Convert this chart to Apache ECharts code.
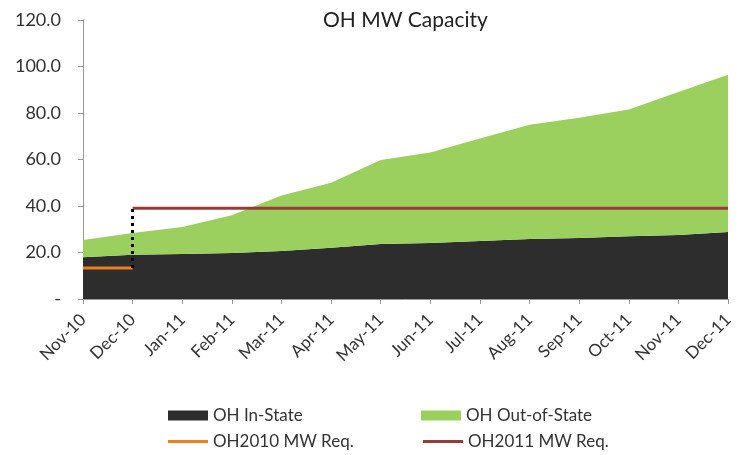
<!DOCTYPE html>
<html lang="en">
<head>
  <meta charset="UTF-8">
  <title>OH MW Capacity</title>
  <style>
    html, body { margin: 0; padding: 0; background: #fff; }
    #main { width: 740px; height: 455px; }
  </style>
</head>
<body>
  <div id="main"></div>
  <script src="https://cdn.jsdelivr.net/npm/echarts@6/dist/echarts.min.js"></script>
  <script>
    var months = ['Nov-10', 'Dec-10', 'Jan-11', 'Feb-11', 'Mar-11', 'Apr-11', 'May-11',
      'Jun-11', 'Jul-11', 'Aug-11', 'Sep-11', 'Oct-11', 'Nov-11', 'Dec-11'];
    var inState = [18.0, 19.0, 19.4, 19.8, 20.6, 22.0, 23.7, 24.1, 25.0, 25.8, 26.2, 27.0, 27.5, 28.8];
    var outOfState = [7.4, 9.4, 11.6, 16.2, 23.9, 28.0, 36.1, 38.9, 44.0, 49.2, 51.8, 54.5, 61.5, 67.7];
    var req2010 = [13.3, 13.3, null, null, null, null, null, null, null, null, null, null, null, null];
    var req2011 = [null, 39.0, 39.0, 39.0, 39.0, 39.0, 39.0, 39.0, 39.0, 39.0, 39.0, 39.0, 39.0, 39.0];

    var chart = echarts.init(document.getElementById('main'));
    var font = 'Lato, "Open Sans", sans-serif';
    var legendText = { fontFamily: font, fontSize: 17, color: '#333' };

    function legendItem(name, left, top, h) {
      return {
        left: left, top: top, itemWidth: 40, itemHeight: h, itemGap: 0,
        textStyle: legendText,
        data: [{ name: name, icon: 'rect' }]
      };
    }

    var option = {
      animation: false,
      title: {
        text: 'OH MW Capacity',
        left: 318,
        top: 5,
        textStyle: { fontFamily: font, fontSize: 21, fontWeight: 'normal', color: '#222' }
      },
      grid: { left: 83, right: 12, top: 20, bottom: 156 },
      legend: [
        legendItem('OH In-State', 163, 402, 10),
        legendItem('OH Out-of-State', 416, 402, 10),
        legendItem('OH2010 MW Req.', 163, 428, 3),
        legendItem('OH2011 MW Req.', 418, 428, 3)
      ],
      xAxis: {
        type: 'category',
        data: months,
        boundaryGap: false,
        axisLine: { lineStyle: { color: '#999' } },
        axisTick: { alignWithLabel: true, interval: 0, length: 5, lineStyle: { color: '#999' } },
        axisLabel: { interval: 0, rotate: 45, fontFamily: font, fontSize: 17, color: '#333', margin: 18 },
        splitLine: { show: false }
      },
      yAxis: {
        type: 'value',
        min: 0,
        max: 120,
        interval: 20,
        axisLine: { show: true, lineStyle: { color: '#999' } },
        axisTick: { show: true, length: 5, lineStyle: { color: '#999' } },
        axisLabel: {
          fontFamily: font, fontSize: 18, color: '#333', margin: 22,
          formatter: function (v) { return v === 0 ? '-' : v.toFixed(1); }
        },
        splitLine: { show: false }
      },
      series: [
        {
          name: 'OH In-State',
          type: 'line',
          stack: 'cap',
          data: inState,
          symbol: 'none',
          lineStyle: { width: 0 },
          itemStyle: { color: '#2d2d2d' },
          areaStyle: { color: '#2d2d2d', opacity: 1 }
        },
        {
          name: 'OH Out-of-State',
          type: 'line',
          stack: 'cap',
          data: outOfState,
          symbol: 'none',
          lineStyle: { width: 0 },
          itemStyle: { color: '#9bd05f' },
          areaStyle: { color: '#9bd05f', opacity: 1 }
        },
        {
          name: 'OH2010 MW Req.',
          type: 'line',
          data: req2010,
          symbol: 'none',
          itemStyle: { color: '#f07d1e' },
          lineStyle: { color: '#f07d1e', width: 3 },
          markLine: {
            symbol: 'none',
            silent: true,
            label: { show: false },
            lineStyle: { color: '#000', type: [3, 4], width: 3 },
            data: [[{ coord: ['Dec-10', 13.3] }, { coord: ['Dec-10', 39.0] }]]
          }
        },
        {
          name: 'OH2011 MW Req.',
          type: 'line',
          data: req2011,
          symbol: 'none',
          itemStyle: { color: '#9a3b3b' },
          lineStyle: { color: '#9a3b3b', width: 3 }
        }
      ]
    };

    chart.setOption(option);
  </script>
</body>
</html>
